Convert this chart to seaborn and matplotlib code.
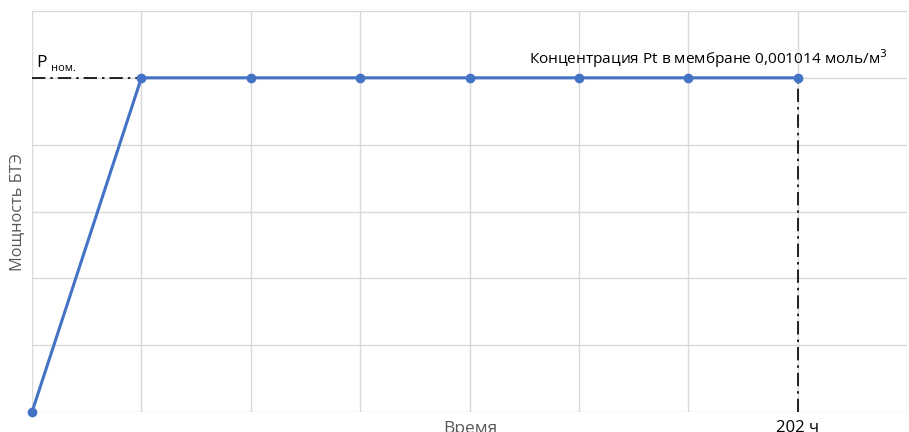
import matplotlib
matplotlib.use("Agg")
import matplotlib.pyplot as plt
import seaborn as sns
import pandas as pd

# Data
time_steps = [0, 1, 2, 3, 4, 5, 6, 7]
power = [0, 5, 5, 5, 5, 5, 5, 5]
p_nom = 5
t_end = 7
x_max = 8
y_max = 6
x_label = "Время"
y_label = "Мощность БТЭ"
p_nom_label = "P"
p_nom_sub = "ном."
end_label = "202 ч"
note = "Концентрация Pt в мембране 0,001014 моль/м$^3$"

sns.set_theme(style="white")
plt.rcParams['font.family'] = ['Open Sans', 'DejaVu Sans']

df = pd.DataFrame({"t": time_steps, "p": power})

fig = plt.figure(figsize=(9.09, 4.32), dpi=100)
ax = fig.add_axes([32/909, 20/432, 875/909, 401/432])

ax.set_xlim(0, x_max)
ax.set_ylim(0, y_max)
ax.set_xticks(range(0, x_max + 1))
ax.set_yticks(range(0, y_max + 1))
ax.grid(True, color="#d9d9d9", linewidth=1.0)
ax.tick_params(left=False, bottom=False, labelleft=False, labelbottom=False)
for s in ax.spines.values():
    s.set_visible(False)

# dash-dot reference lines
ax.plot([0, t_end], [p_nom, p_nom], color="black", linestyle=(0, (8, 3, 1.5, 3)), linewidth=1.2, zorder=2)
ax.plot([t_end, t_end], [0, p_nom], color="black", linestyle=(0, (8, 3, 1.5, 3)), linewidth=1.2, zorder=2)

sns.lineplot(data=df, x="t", y="p", ax=ax, color="#4472C4", linewidth=2.2,
             marker="o", markersize=7, markeredgewidth=0, zorder=3, clip_on=False)

ax.set_xlabel("")
ax.set_ylabel("")

# texts
ax.text(0.04, p_nom + 0.1, p_nom_label, fontsize=12.5, color="black", ha="left", va="bottom")
ax.text(0.17, p_nom + 0.05, p_nom_sub, fontsize=8, color="black", ha="left", va="bottom")
ax.text(7.82, p_nom + 0.12, note, fontsize=11.1, color="black", ha="right", va="bottom")

fig.text(470/909, -5/432, x_label, fontsize=12.5, color="#595959", ha="center", va="bottom")
fig.text(797/909, -4/432, end_label, fontsize=12, color="black", ha="center", va="bottom")
fig.text(17/909, 220/432, y_label, fontsize=11.8, color="#595959", ha="center", va="center", rotation=90)

fig.savefig("out.png", dpi=100)
